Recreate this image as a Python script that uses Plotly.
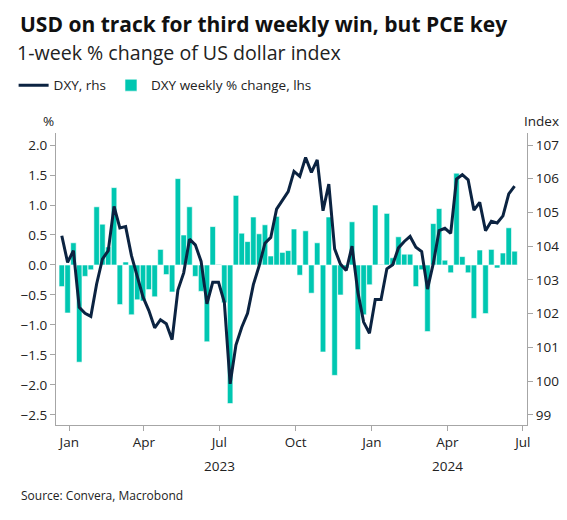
import pandas as pd
import plotly.graph_objects as go

weeks = pd.date_range("2022-12-23", periods=79, freq="7D")

dxy_weekly_pct = [
    -0.36, -0.80, 0.37, -1.62, -0.19, -0.08, 0.97, 0.68, 0.30, 1.29,
    -0.66, 0.05, -0.83, -0.58, -0.60, -0.41, -0.53, 0.26, -0.16, -0.45,
    1.44, 0.50, 0.97, -0.19, -0.44, -1.28, 0.64, 0.01, -0.63, -2.31,
    1.16, 0.53, 0.39, 0.80, 0.52, 0.67, 0.15, 0.81, 0.21, 0.24,
    0.60, -0.17, 0.57, -0.47, 0.37, -1.45, 0.80, -1.84, -0.50, -0.05,
    0.72, -1.41, -0.83, -0.33, 1.00, 0.01, 0.86, 0.12, 0.47, 0.18,
    0.18, -0.36, -0.08, -1.11, 0.69, 0.94, 0.08, -0.13, 1.53, 0.14,
    -0.13, -0.89, 0.25, -0.81, 0.26, -0.05, 0.20, 0.62, 0.23,
]

dxy_level = [
    104.31, 103.52, 103.87, 102.19, 102.01, 101.92, 102.88, 103.62, 103.87, 105.18,
    104.54, 104.58, 103.72, 103.13, 102.49, 102.09, 101.58, 101.82, 101.70, 101.23,
    102.70, 103.21, 104.21, 104.04, 103.55, 102.29, 102.93, 102.93, 102.34, 99.92,
    101.07, 101.60, 102.01, 102.86, 103.42, 104.09, 104.26, 105.10, 105.35, 105.62,
    106.22, 106.07, 106.63, 106.19, 106.56, 105.05, 105.84, 103.92, 103.47, 103.28,
    104.00, 102.64, 101.75, 101.42, 102.42, 102.42, 103.33, 103.45, 103.95, 104.14,
    104.29, 103.97, 103.84, 102.73, 103.49, 104.46, 104.53, 104.38, 105.99, 106.12,
    105.97, 105.07, 105.30, 104.46, 104.74, 104.69, 104.90, 105.55, 105.78,
]

tick_dates = ["2023-01-01", "2023-04-01", "2023-07-01", "2023-10-01",
              "2024-01-01", "2024-04-01", "2024-07-01"]
tick_labels = ["Jan", "Apr", "Jul", "Oct", "Jan", "Apr", "Jul"]

navy = "#0b2341"
teal = "#00c7b1"
axis_col = "#a6a6a6"
font = "Open Sans"

fig = go.Figure()
fig.add_trace(go.Bar(x=weeks, y=dxy_weekly_pct, name="DXY weekly % change, lhs",
                     marker=dict(color=teal, line=dict(width=0.6, color="white"))))
fig.add_trace(go.Scatter(x=weeks, y=dxy_level, name="DXY, rhs", yaxis="y2",
                         mode="lines", line=dict(color=navy, width=3)))

fig.update_layout(
    width=567, height=520,
    margin=dict(l=48, r=48, t=125, b=103, autoexpand=False),
    plot_bgcolor="white", paper_bgcolor="white",
    font=dict(family=font, size=13, color="#222"),
    bargap=0.05, showlegend=True,
    legend=dict(orientation="h", x=-0.09, y=1.163, xanchor="left", yanchor="middle",
                traceorder="reversed", font=dict(size=13.5, color="#222"),
                itemwidth=30, tracegroupgap=0),
    xaxis=dict(tickvals=tick_dates, ticktext=tick_labels, showgrid=False,
               showline=True, linecolor=axis_col, ticks="outside", tickcolor=axis_col,
               ticklen=5, range=["2022-12-16", "2024-07-06"], tickfont=dict(size=13.5)),
    yaxis=dict(range=[-2.667, 2.2], tickvals=[-2.5, -2, -1.5, -1, -0.5, 0, 0.5, 1, 1.5, 2],
               tickformat=".1f", showgrid=False, zeroline=False, showline=True,
               linecolor=axis_col, ticks="outside", tickcolor=axis_col, ticklen=5,
               tickfont=dict(size=13.5)),
    yaxis2=dict(range=[98.70, 107.356], tickvals=list(range(99, 108)), overlaying="y",
                side="right", showgrid=False, zeroline=False, showline=True,
                linecolor=axis_col, ticks="outside", tickcolor=axis_col, ticklen=5,
                tickfont=dict(size=13.5)),
)

fig.add_annotation(text="<b>USD on track for third weekly win, but PCE key</b>",
                   xref="paper", yref="paper", x=-0.08, y=1.375, xanchor="left",
                   yanchor="middle", showarrow=False, font=dict(size=21, color="#111"))
fig.add_annotation(text="1-week % change of US dollar index", xref="paper", yref="paper",
                   x=-0.088, y=1.275, xanchor="left", yanchor="middle", showarrow=False,
                   font=dict(size=19.6, color="#222"))
fig.add_annotation(text="%", xref="paper", yref="paper", x=0.0, y=1.041,
                   xanchor="right", yanchor="middle", showarrow=False, font=dict(size=13.5))
fig.add_annotation(text="Index", xref="paper", yref="paper", x=0.99, y=1.041,
                   xanchor="left", yanchor="middle", showarrow=False, font=dict(size=13.5))
fig.add_annotation(text="2023", x="2023-07-01", xref="x", yref="paper", y=-0.14,
                   yanchor="middle", showarrow=False, font=dict(size=13.5))
fig.add_annotation(text="2024", x="2024-04-01", xref="x", yref="paper", y=-0.14,
                   yanchor="middle", showarrow=False, font=dict(size=13.5))
fig.add_annotation(text="Source: Convera, Macrobond", xref="paper", yref="paper",
                   x=-0.078, y=-0.243, xanchor="left", yanchor="middle", showarrow=False,
                   font=dict(size=12, color="#222"))

fig.write_html("out.html")
